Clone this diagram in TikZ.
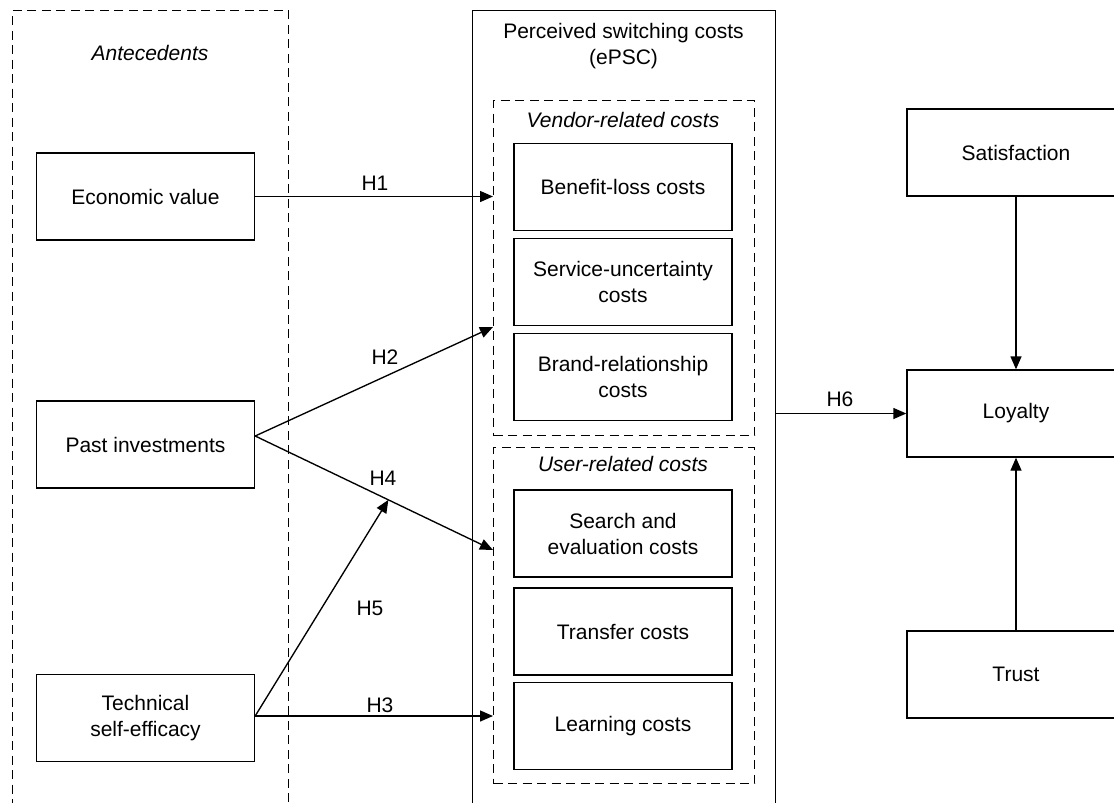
\documentclass[tikz,border=0pt]{standalone}
\usepackage{fontspec}
\setmainfont{Liberation Sans}
\usetikzlibrary{arrows.meta,calc}
\begin{document}
\begin{tikzpicture}[x=1pt,y=-1pt,
  every node/.style={font=\fontsize{21}{26}\selectfont},
  box/.style={draw, line width=1.35pt, minimum width=218pt, minimum height=87pt, inner sep=0pt, align=center},
  frame/.style={draw, line width=1.35pt, inner sep=0pt},
  dashframe/.style={draw, line width=1.35pt, dash pattern=on 9pt off 5.5pt, inner sep=0pt},
  arr/.style={line width=1.35pt, -{Triangle[length=13pt,width=11pt]}},
  lbl/.style={inner sep=0pt},
]
\clip (0,0) rectangle (1114,803);
\fill[white] (0,0) rectangle (1114,803);

% containers
\node[dashframe, anchor=north west, minimum width=276pt, minimum height=820pt] (ante) at (12,10) {};
\node[frame, anchor=north west, minimum width=303pt, minimum height=820pt] (epsc) at (472,10) {};
\node[dashframe, anchor=north west, minimum width=261pt, minimum height=335pt] (vendor) at (493,100) {};
\node[dashframe, anchor=north west, minimum width=261pt, minimum height=336pt] (user) at (493,447) {};

% headings
\node[lbl, font=\fontsize{21}{26}\selectfont\itshape] (antet) at (150,53) {Antecedents};
\node[lbl, align=center] (epsct) at (623.5,46) {Perceived switching costs\\(ePSC)};
\node[lbl, font=\fontsize{21}{26}\selectfont\itshape] (vendort) at (623,120) {Vendor-related costs};
\node[lbl, font=\fontsize{21}{26}\selectfont\itshape] (usert) at (623,464) {User-related costs};

% antecedents
\node[box] (ev)  at (145.5,196.5) {Economic value};
\node[box] (pi)  at (145.5,444.5) {Past investments};
\node[box] (tse) at (145.5,718) {Technical\\self-efficacy};

% switching cost dimensions
\node[box] (blc)  at (623,187)   {Benefit-loss costs};
\node[box] (svc)  at (623,282)   {Service-uncertainty\\costs};
\node[box] (brc)  at (623,377)   {Brand-relationship\\costs};
\node[box] (sec)  at (623,533.5) {Search and\\evaluation costs};
\node[box] (trc)  at (623,631.5) {Transfer costs};
\node[box] (lrc)  at (623,726)   {Learning costs};

% outcomes
\node[box] (sat) at (1016,152.5) {Satisfaction};
\node[box] (loy) at (1016,413.5) {Loyalty};
\node[box] (tru) at (1016,674.5) {Trust};

% connectors
\coordinate (piout) at ($(pi.east)+(0,-8.5)$);
\coordinate (tseout) at ($(tse.east)+(0,-2)$);
\coordinate (h2end) at (vendor.west |- 0,327);
\coordinate (h4end) at (user.west |- 0,550);

\draw[arr] (ev.east) -- (ev.east -| vendor.west);
\draw[arr] (piout) -- (h2end);
\draw[arr] (piout) -- (h4end);
\draw[arr] (tseout) -- ($(piout)!0.56!(h4end)$);
\draw[arr] (tseout) -- (tseout -| user.west);
\draw[arr] (loy.west -| epsc.east) -- (loy.west);
\draw[arr] (sat.south) -- (loy.north);
\draw[arr] (tru.north) -- (loy.south);

% hypothesis labels
\node[lbl] (h1) at (375,183) {H1};
\node[lbl] (h2) at (385,357) {H2};
\node[lbl] (h4) at (383,478) {H4};
\node[lbl] (h5) at (370,608) {H5};
\node[lbl] (h3) at (380,705) {H3};
\node[lbl] (h6) at (840,399) {H6};
\end{tikzpicture}
\end{document}
